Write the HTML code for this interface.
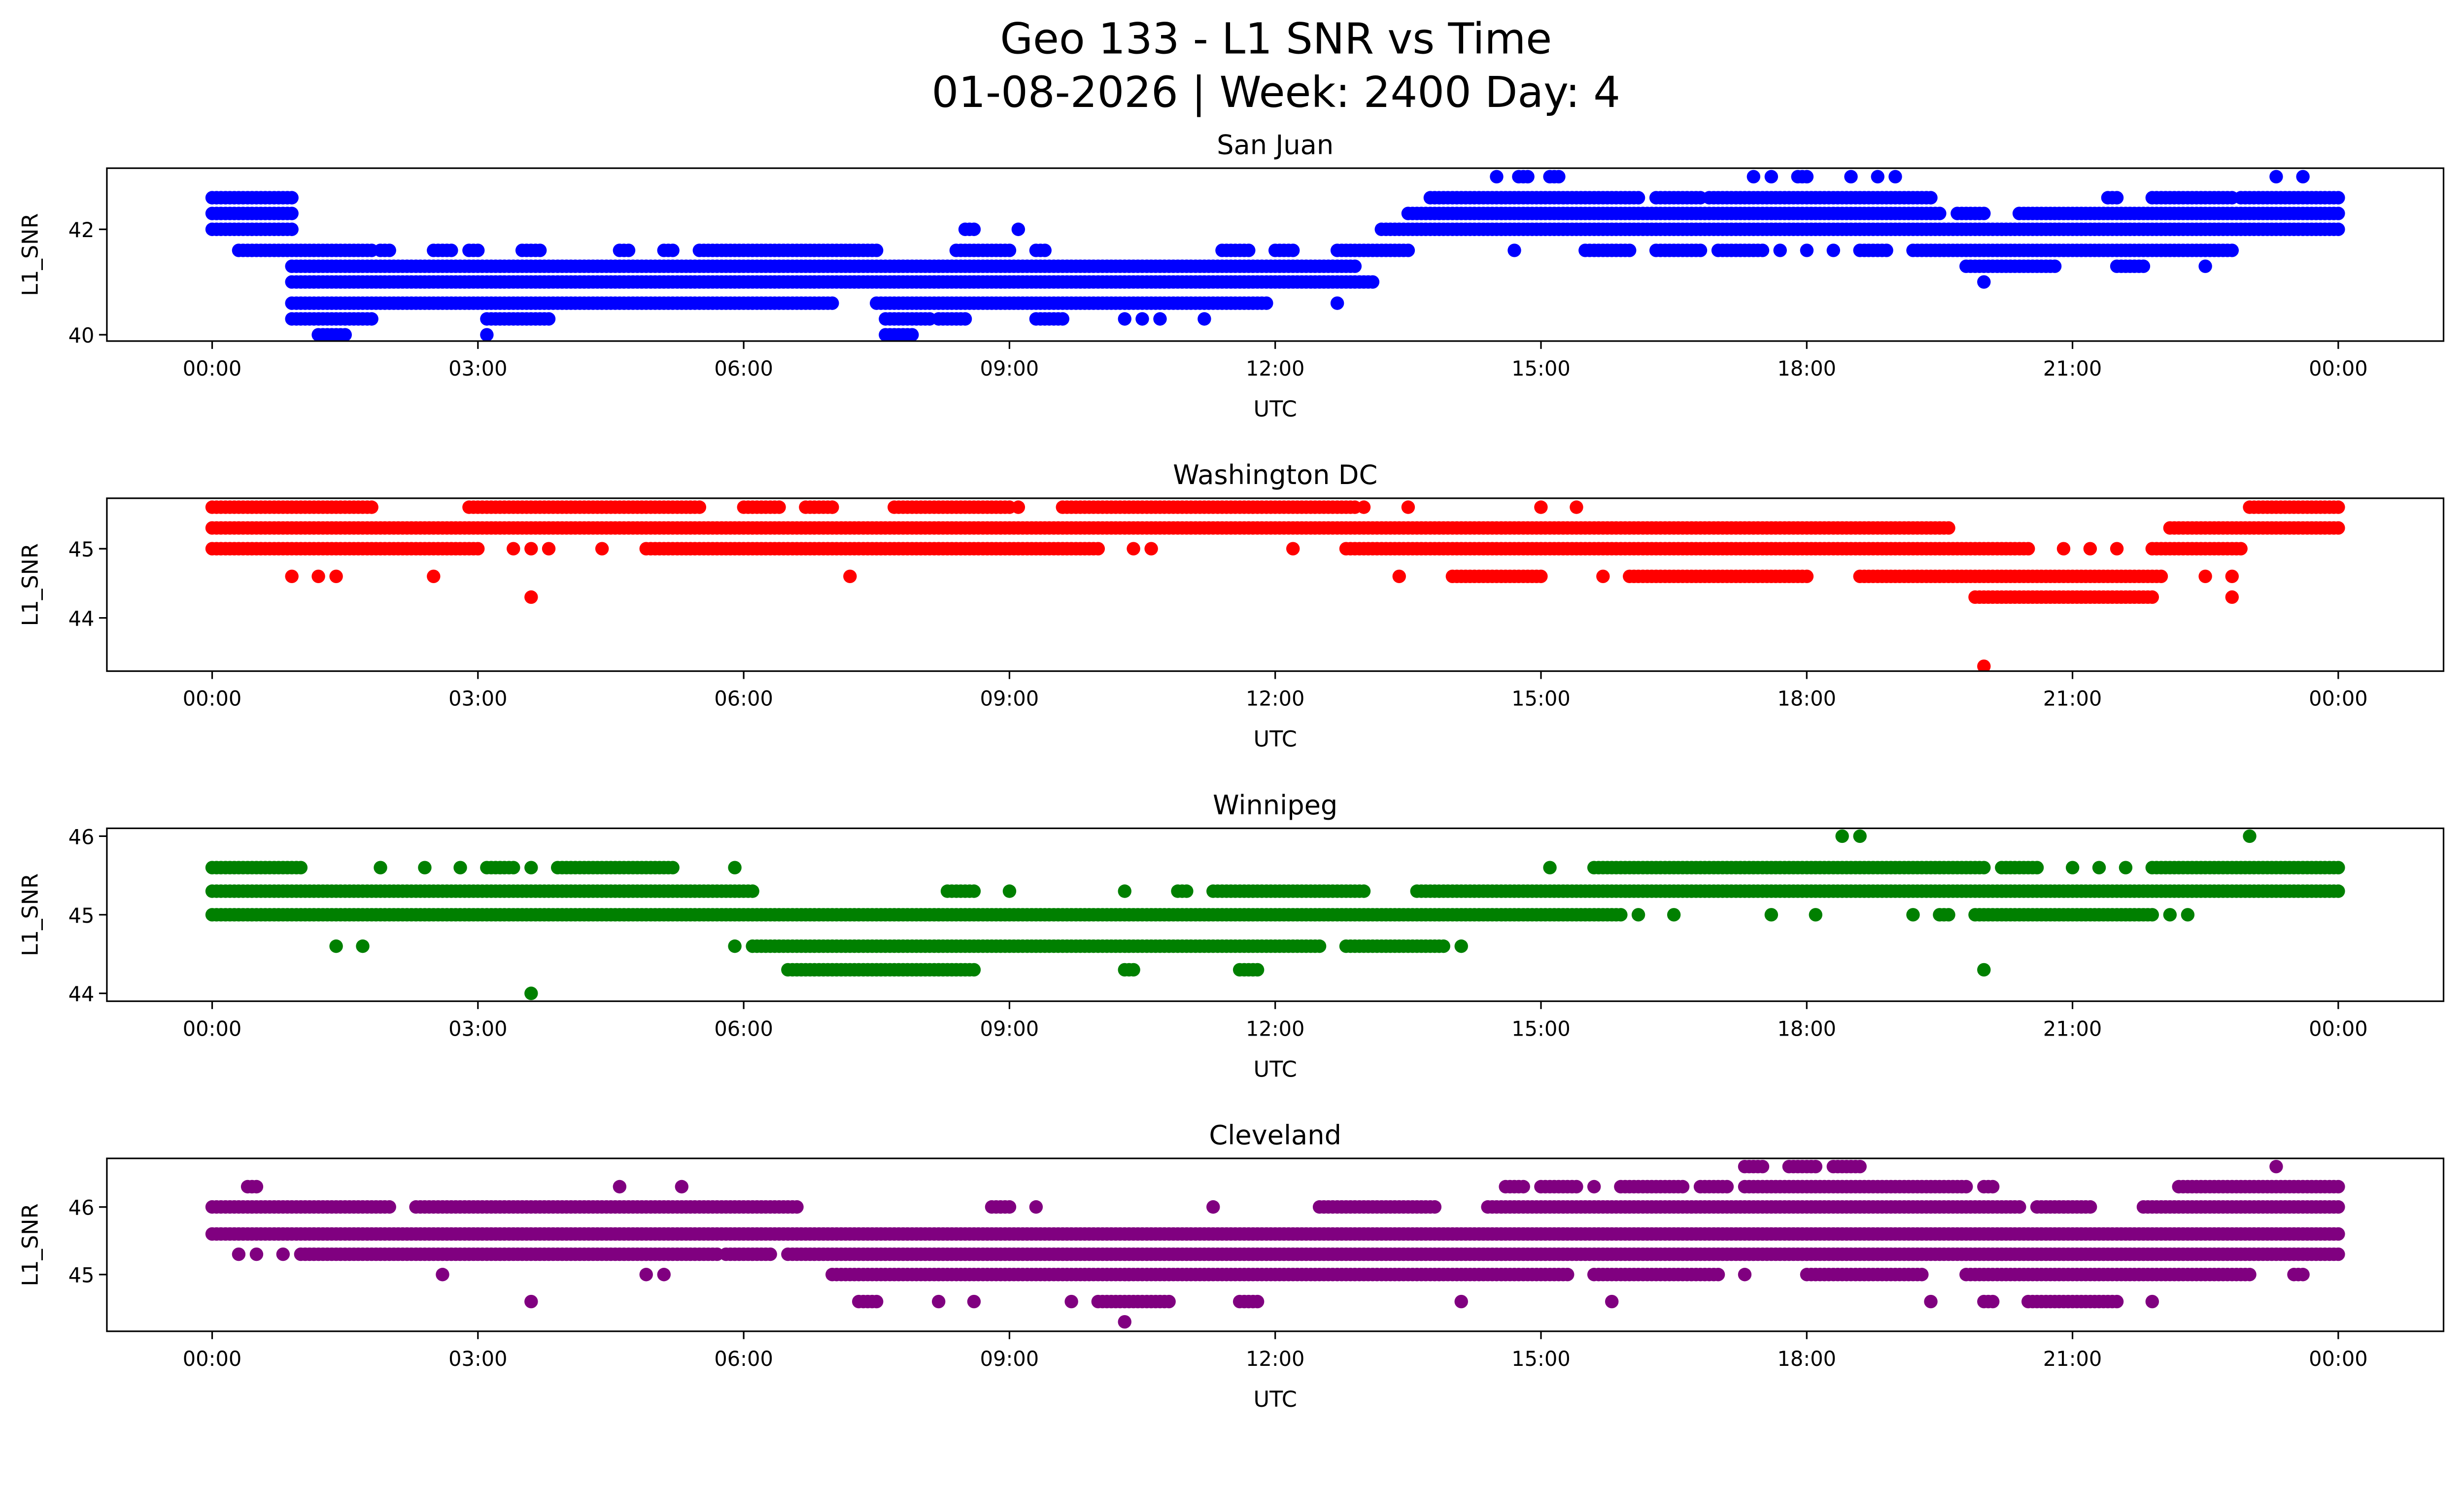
<!DOCTYPE html>
<html><head><meta charset="utf-8"><style>
html,body{margin:0;padding:0;background:#fff;overflow:hidden;}
svg{display:block;width:100vw;height:58.0478vw;font-family:"DejaVu Sans","Liberation Sans",sans-serif;}
</style></head><body>
<svg id="chart" xmlns="http://www.w3.org/2000/svg" viewBox="0 0 1568 910.2">
<rect x="0" y="0" width="1568" height="911" fill="#fff"/>
<text x="812" y="34" font-size="27" text-anchor="middle">Geo 133 - L1 SNR vs Time</text>
<text x="812" y="68" font-size="27" text-anchor="middle">01-08-2026 | Week: 2400 Day: 4</text>
<g id="panels"></g>
</svg>
<script>
// x tick labels (hours)
const xTickHours = [0,3,6,9,12,15,18,21,24];
const xTickLabels = ["00:00","03:00","06:00","09:00","12:00","15:00","18:00","21:00","00:00"];
const stations = ["San Juan","Washington DC","Winnipeg","Cleveland"];
const colors = ["#0000ff","#ff0000","#008000","#800080"];
const yDomains = [[39.88,43.16],[43.23,45.73],[43.9,46.1],[44.16,46.72]];
const yTicks = [[40,42],[44,45],[44,45,46],[45,46]];
// series: [level, startHour, endHour]
const sanJuan = [
[42.6,0,0.9],[42.3,0,0.9],[42.0,0,0.9],
[43.0,14.5,14.5],[43.0,14.75,14.85],[43.0,15.1,15.2],[43.0,17.4,17.4],[43.0,17.6,17.6],[43.0,17.9,18.0],[43.0,18.5,18.5],[43.0,18.8,18.8],[43.0,19.0,19.0],[43.0,23.3,23.3],[43.0,23.6,23.6],
[42.6,13.75,16.1],[42.6,16.3,16.8],[42.6,16.9,19.4],[42.6,21.4,21.5],[42.6,21.9,22.8],[42.6,22.9,24],
[42.3,13.5,19.5],[42.3,19.7,20.0],[42.3,20.4,24],
[42.0,13.2,24],[42.0,8.5,8.6],[42.0,9.1,9.1],
[41.6,0.3,1.8],[41.6,1.9,2.0],[41.6,2.5,2.7],[41.6,2.9,3.0],[41.6,3.5,3.7],[41.6,4.6,4.7],[41.6,5.1,5.2],[41.6,5.5,7.5],[41.6,8.4,9.0],[41.6,9.3,9.4],[41.6,11.4,11.7],[41.6,12.0,12.2],[41.6,12.7,13.5],[41.6,14.7,14.7],[41.6,15.5,16.0],[41.6,16.3,16.8],[41.6,17.0,17.5],[41.6,17.7,17.7],[41.6,18.0,18.0],[41.6,18.3,18.3],[41.6,18.6,18.9],[41.6,19.2,22.8],
[41.3,0.9,12.9],[41.3,19.8,20.8],[41.3,21.5,21.8],[41.3,22.5,22.5],
[41.0,0.9,13.1],[41.0,20.0,20.0],
[40.6,0.9,7.0],[40.6,7.5,11.9],[40.6,12.7,12.7],
[40.3,0.9,1.8],[40.3,3.1,3.8],[40.3,7.6,8.1],[40.3,8.2,8.5],[40.3,9.3,9.6],[40.3,10.3,10.3],[40.3,10.5,10.5],[40.3,10.7,10.7],[40.3,11.2,11.2],
[40.0,1.2,1.5],[40.0,3.1,3.1],[40.0,7.6,7.9]
];
const washington = [
[45.6,0,1.8],[45.6,2.9,5.5],[45.6,6.0,6.4],[45.6,6.7,7.0],[45.6,7.0,7.0],[45.6,7.7,9.0],[45.6,9.1,9.1],[45.6,9.6,12.9],[45.6,13.0,13.0],[45.6,13.5,13.5],[45.6,15.0,15.0],[45.6,15.4,15.4],[45.6,23.0,24],
[45.3,0,19.6],[45.3,22.1,24],
[45.0,0,3.0],[45.0,3.4,3.4],[45.0,3.6,3.6],[45.0,3.8,3.8],[45.0,4.4,4.4],[45.0,4.9,10.0],[45.0,10.4,10.4],[45.0,10.6,10.6],[45.0,12.2,12.2],[45.0,12.8,20.5],[45.0,20.9,20.9],[45.0,21.2,21.2],[45.0,21.5,21.5],[45.0,21.9,22.9],
[44.6,0.9,0.9],[44.6,1.2,1.2],[44.6,1.4,1.4],[44.6,2.5,2.5],[44.6,7.2,7.2],[44.6,13.4,13.4],[44.6,14.0,15.0],[44.6,15.7,15.7],[44.6,16.0,18.0],[44.6,18.6,22.0],[44.6,22.5,22.5],[44.6,22.8,22.8],
[44.3,3.6,3.6],[44.3,19.9,21.9],[44.3,22.8,22.8],
[43.3,20.0,20.0]
];
const winnipeg = [
[46.0,18.4,18.4],[46.0,18.6,18.6],[46.0,23.0,23.0],
[45.6,0,1.0],[45.6,1.9,1.9],[45.6,2.4,2.4],[45.6,2.8,2.8],[45.6,3.1,3.4],[45.6,3.6,3.6],[45.6,3.9,5.2],[45.6,5.9,5.9],[45.6,15.1,15.1],[45.6,15.6,20.0],[45.6,20.2,20.6],[45.6,21.0,21.0],[45.6,21.3,21.3],[45.6,21.6,21.6],[45.6,21.9,24],
[45.3,0,6.1],[45.3,8.3,8.6],[45.3,9.0,9.0],[45.3,10.3,10.3],[45.3,10.9,11.0],[45.3,11.3,13.0],[45.3,13.6,24],
[45.0,0,15.9],[45.0,16.1,16.1],[45.0,16.5,16.5],[45.0,17.6,17.6],[45.0,18.1,18.1],[45.0,19.2,19.2],[45.0,19.5,19.6],[45.0,19.9,21.9],[45.0,22.1,22.1],[45.0,22.3,22.3],
[44.6,1.4,1.4],[44.6,1.7,1.7],[44.6,5.9,5.9],[44.6,6.1,12.5],[44.6,12.8,13.9],[44.6,14.1,14.1],
[44.3,6.5,8.6],[44.3,10.3,10.4],[44.3,11.6,11.8],[44.3,20.0,20.0],
[44.0,3.6,3.6]
];
const cleveland = [
[46.6,17.3,17.5],[46.6,17.8,18.1],[46.6,18.3,18.6],[46.6,23.3,23.3],
[46.3,0.4,0.5],[46.3,4.6,4.6],[46.3,5.3,5.3],[46.3,14.6,14.8],[46.3,15.0,15.4],[46.3,15.6,15.6],[46.3,15.9,16.6],[46.3,16.8,17.1],[46.3,17.3,19.8],[46.3,20.0,20.1],[46.3,22.2,24],
[46.0,0,2.0],[46.0,2.3,6.6],[46.0,8.8,9.0],[46.0,9.3,9.3],[46.0,11.3,11.3],[46.0,12.5,13.8],[46.0,14.4,20.4],[46.0,20.6,21.2],[46.0,21.8,24],
[45.6,0,24],
[45.3,0.3,0.3],[45.3,0.5,0.5],[45.3,0.8,0.8],[45.3,1.0,5.7],[45.3,5.8,6.3],[45.3,6.5,24],
[45.0,2.6,2.6],[45.0,4.9,4.9],[45.0,5.1,5.1],[45.0,7.0,15.3],[45.0,15.6,17.0],[45.0,17.3,17.3],[45.0,18.0,19.3],[45.0,19.8,23.0],[45.0,23.5,23.6],
[44.6,3.6,3.6],[44.6,7.3,7.5],[44.6,8.2,8.2],[44.6,8.6,8.6],[44.6,9.7,9.7],[44.6,10.0,10.8],[44.6,11.6,11.8],[44.6,14.1,14.1],[44.6,15.8,15.8],[44.6,19.4,19.4],[44.6,20.0,20.1],[44.6,20.5,21.5],[44.6,21.9,21.9],
[44.3,10.3,10.3]
];
const seriesData = [sanJuan, washington, winnipeg, cleveland];

const NS = "http://www.w3.org/2000/svg";
const L = 68, R = 1555, panelTops = [107,317,527,737], PH = 110;
const x0 = 135, x1 = 1488;
function xScale(h){ return x0 + (x1 - x0) * h / 24; }
function mk(tag, attrs, parent){ const e = document.createElementNS(NS, tag); for (const k in attrs) e.setAttribute(k, attrs[k]); parent.appendChild(e); return e; }
const root = document.getElementById("panels");
seriesData.forEach((series, i) => {
  const top = panelTops[i], bot = top + PH;
  const [d0, d1] = yDomains[i];
  const yScale = v => bot - (v - d0) / (d1 - d0) * PH;
  const g = mk("g", {}, root);
  
  
  const t = mk("text", {x:(L+R)/2, y: top - 9, "font-size":17, "text-anchor":"middle"}, g);
  t.textContent = stations[i];
  
  
  const clip = mk("clipPath", {id:"c"+i}, g);
  mk("rect", {x:L, y:top, width:R-L, height:PH}, clip);
  const dots = mk("g", {fill: colors[i], "clip-path":"url(#c"+i+")"}, g);
  
  
  series.forEach(([lv, s, e]) => {
    const cy = yScale(lv);
    for (let h = s; h <= e + 1e-9; h += 0.05) {
      const c = mk("circle", {cx: xScale(h).toFixed(1), cy: cy.toFixed(1), r: 4.3}, dots);
      
      
    }
  });
  const frame = mk("rect", {x:L, y:top, width:R-L, height:PH, fill:"none", stroke:"#000", "stroke-width":1}, g);
  
  
  xTickHours.forEach((h, k) => {
    const x = xScale(h);
    mk("line", {x1:x, x2:x, y1:bot, y2:bot+5, stroke:"#000", "stroke-width":1}, g);
    const tl = mk("text", {x:x, y:bot+22, "font-size":13, "text-anchor":"middle"}, g);
    tl.textContent = xTickLabels[k];
    
    
  });
  yTicks[i].forEach(v => {
    const y = yScale(v);
    mk("line", {x1:L-5, x2:L, y1:y, y2:y, stroke:"#000", "stroke-width":1}, g);
    const tl = mk("text", {x:L-8, y:y+5, "font-size":13, "text-anchor":"end"}, g);
    tl.textContent = v;
    
    
  });
  const xl = mk("text", {x:(L+R)/2, y:bot+48, "font-size":14, "text-anchor":"middle"}, g);
  xl.textContent = "UTC";
  
  
  const yl = mk("text", {x:0, y:0, "font-size":14, "text-anchor":"middle", transform:"translate(24," + (top+PH/2) + ") rotate(-90)"}, g);
  yl.textContent = "L1_SNR";
  
  
});
</script>
</body></html>
